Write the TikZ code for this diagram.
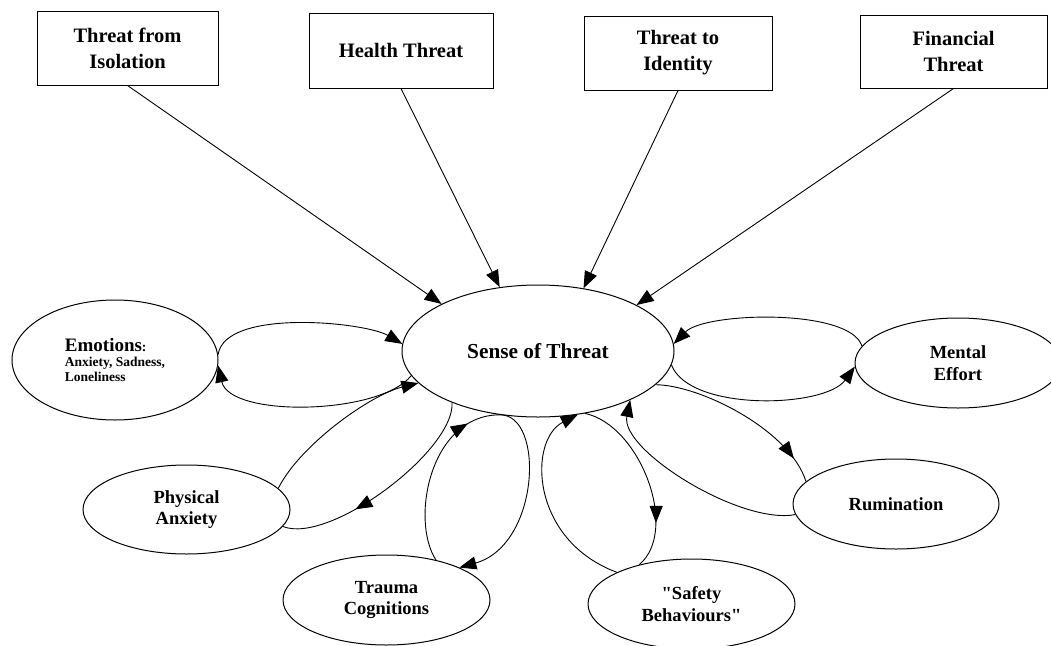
\documentclass[tikz,border=0pt]{standalone}
\usepackage{fontspec}
\setmainfont[Ligatures=TeXOff]{Liberation Serif}
\usetikzlibrary{shapes.geometric, arrows.meta, decorations.markings}
\begin{document}
\begin{tikzpicture}[x=1pt, y=-1pt,
  box/.style={draw, line width=1pt, rectangle, align=center, inner sep=0pt, font=\bfseries\fontsize{20.5}{26}\selectfont},
  ell/.style={draw, line width=1pt, ellipse, align=center, inner sep=0pt, minimum width=206pt, minimum height=90pt, font=\bfseries\fontsize{18.5}{21.5}\selectfont},
  arr/.style={line width=0.9pt, -{Triangle[length=17pt,width=13pt]}},
  midarr/.style={line width=0.9pt, postaction={decorate}, decoration={markings, mark=at position #1 with {\arrow{Triangle[length=17pt,width=13pt]}}}}
]
\useasboundingbox (0,0) rectangle (1051,645);

% top boxes
\node[box, minimum width=181pt, minimum height=74pt] (iso) at (127.5,48) {Threat from\\Isolation};
\node[box, minimum width=184pt, minimum height=75pt] (health) at (401,50.5) {Health Threat};
\node[box, minimum width=188pt, minimum height=74pt] (ident) at (678,53) {Threat to\\Identity};
\node[box, minimum width=187pt, minimum height=73pt] (fin) at (953.5,51.5) {Financial\\Threat};

% central ellipse
\node[ell, minimum width=272pt, minimum height=132pt, font=\bfseries\fontsize{21.3}{24}\selectfont] (sense) at (538,351) {Sense of Threat};

% surrounding ellipses
\node[ell, minimum width=206pt, minimum height=120pt, align=left, font=\bfseries\fontsize{13.5}{15}\selectfont] (emo) at (115,360)
  {{\fontsize{19}{15}\selectfont Emotions}:\\Anxiety, Sadness,\\Loneliness};
\node[ell] (mental) at (958,363) {Mental\\Effort};
\node[ell] (rum) at (896,504) {Rumination};
\node[ell, minimum width=207pt, minimum height=89pt] (phys) at (186.5,509.5) {Physical\\Anxiety};
\node[ell, minimum width=207pt] (trauma) at (386.5,600) {Trauma\\Cognitions};
\node[ell, minimum width=207pt] (safety) at (691.5,604) {"Safety\\Behaviours"};

% threats to sense
\draw[arr] (iso.south) -- (sense.154);
\draw[arr] (health.south) -- (sense.121);
\draw[arr] (ident.south) -- (sense.54);
\draw[arr] (fin.south) -- (sense.25);

% emotions loop
\draw[arr] (emo.3) .. controls (225,308) and (365,322) .. (sense.177);
\draw[arr] (sense.191) .. controls (380,415) and (230,418) .. (emo.-3);

% mental effort loop
\draw[arr] (mental.170) .. controls (850,308) and (705,312) .. (sense.3);
\draw[arr] (sense.-6) .. controls (690,412) and (825,408) .. (mental.182);

% physical anxiety loop
\draw[arr] (phys.13) .. controls (300,445) and (370,395) .. (sense.195);
\draw[midarr=0.66] (sense.211) .. controls (455,450) and (330,545) .. (phys.-10);

% trauma loop
\draw[midarr=0.82] (trauma.39) .. controls (410,520) and (430,415) .. (sense.239);
\draw[arr] (sense.239) .. controls (545,414) and (540,545) .. (trauma.24);

% safety loop
\draw[arr] (safety.157) .. controls (530,540) and (528,440) .. (sense.-58);
\draw[midarr=0.75] (sense.-53) .. controls (640,425) and (680,530) .. (safety.143);

% rumination loop
\draw[midarr=0.86] (sense.-16) .. controls (700,385) and (790,430) .. (rum.166);
\draw[arr] (rum.186) .. controls (740,525) and (620,450) .. (sense.-28);
\end{tikzpicture}
\end{document}
